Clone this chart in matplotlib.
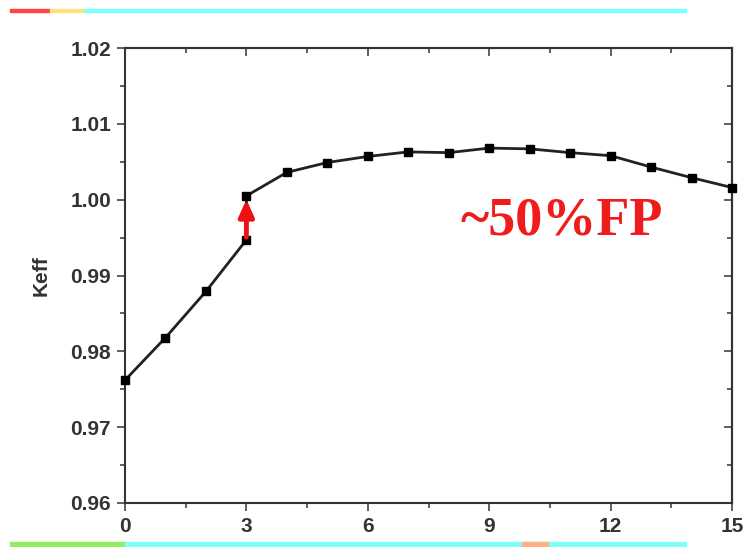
import matplotlib
matplotlib.use("Agg")
import matplotlib.pyplot as plt
from matplotlib.ticker import MultipleLocator, FormatStrFormatter
from matplotlib.patches import Rectangle

# Data
x_vals = [0, 1, 2, 3, 3, 4, 5, 6, 7, 8, 9, 10, 11, 12, 13, 14, 15]
keff = [0.9762, 0.9818, 0.9879, 0.9947, 1.0005, 1.0036, 1.0049, 1.0057,
        1.0063, 1.0062, 1.0068, 1.0067, 1.0062, 1.0058, 1.0043, 1.0029, 1.0016]
arrow_x = 3
arrow_from = 0.9947
arrow_to = 1.0005
annotation = "~50%FP"
y_label = "Keff"

fig = plt.figure(figsize=(7.43, 5.47), dpi=100)
ax = fig.add_axes([125/743, 1-503/547, (732-125)/743, (503-48)/547])

ax.plot(x_vals, keff, color="#222222", lw=2.0, marker="s", ms=6,
        mfc="black", mec="black", zorder=3, clip_on=False)

ax.annotate("", xy=(arrow_x, arrow_to - 0.0001), xytext=(arrow_x, arrow_from),
            arrowprops=dict(arrowstyle="-|>,head_length=1.0,head_width=0.45",
                            color="#ee1111", lw=3.5), zorder=4)

ax.set_xlim(0, 15)
ax.set_ylim(0.96, 1.02)
ax.xaxis.set_major_locator(MultipleLocator(3))
ax.xaxis.set_minor_locator(MultipleLocator(1.5))
ax.yaxis.set_major_locator(MultipleLocator(0.01))
ax.yaxis.set_minor_locator(MultipleLocator(0.005))
ax.yaxis.set_major_formatter(FormatStrFormatter("%.2f"))

for sp in ax.spines.values():
    sp.set_linewidth(1.5)
    sp.set_color("#333333")

ax.tick_params(which="both", direction="out", color="#444444", width=1.2)
ax.tick_params(which="major", length=6)
ax.tick_params(which="minor", length=3.5)
ax.tick_params(axis="both", labelsize=15, pad=4, labelcolor="#333333")

# inward ticks on top and right (mirrored)
ax_top = ax.secondary_xaxis("top")
ax_top.xaxis.set_major_locator(MultipleLocator(3))
ax_top.xaxis.set_minor_locator(MultipleLocator(1.5))
ax_top.tick_params(which="both", direction="in", labeltop=False, color="#444444", width=1.2)
ax_top.tick_params(which="major", length=6)
ax_top.tick_params(which="minor", length=3.5)
ax_top.spines["top"].set_linewidth(1.5)
ax_top.spines["top"].set_color("#333333")
ax_right = ax.secondary_yaxis("right")
ax_right.yaxis.set_major_locator(MultipleLocator(0.01))
ax_right.yaxis.set_minor_locator(MultipleLocator(0.005))
ax_right.tick_params(which="both", direction="in", labelright=False, color="#444444", width=1.2)
ax_right.tick_params(which="major", length=6)
ax_right.tick_params(which="minor", length=3.5)
ax_right.spines["right"].set_linewidth(1.5)
ax_right.spines["right"].set_color("#333333")

for lab in ax.get_xticklabels() + ax.get_yticklabels():
    lab.set_fontweight("bold")
    lab.set_family("Liberation Sans")

ax.set_ylabel(y_label, fontsize=15, fontweight="bold", family="Liberation Sans",
              color="#333333", labelpad=14)

ax.text(0.72, 0.618, annotation, transform=ax.transAxes, color="#f01c1c",
        fontsize=39, fontweight="bold", family="Liberation Serif",
        ha="center", va="center")

# decorative slide bars
def bar(x0, x1, y0, h, c):
    fig.patches.append(Rectangle((x0/743, 1-(y0+h)/547), (x1-x0)/743, h/547,
                                 transform=fig.transFigure, color=c, zorder=0))

bar(10, 50, 9, 3, "#ff4444")
bar(50, 84, 9, 3, "#ffe27a")
bar(84, 686, 9, 3, "#80ffff")
bar(10, 125, 542, 5, "#90ee60")
bar(125, 686, 542, 5, "#80ffff")
bar(522, 548, 542, 5, "#ffb080")

fig.savefig("out.png", dpi=100)
